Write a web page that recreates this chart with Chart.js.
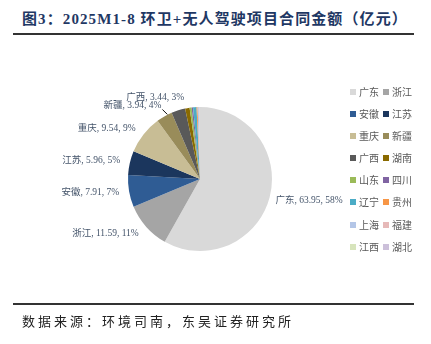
<!DOCTYPE html>
<html>
<head>
<meta charset="utf-8">
<script src="https://cdn.jsdelivr.net/npm/chart.js@4/dist/chart.umd.min.js"></script>
<style>
  html, body { margin:0; padding:0; background:#fff; }
  body { width:431px; height:344px; position:relative; overflow:hidden; font-family:'Liberation Serif','Noto Sans CJK SC',serif; }
  #title { position:absolute; left:22px; top:7px; font-size:15px; font-weight:bold; color:#1f3864; white-space:nowrap; letter-spacing:1.1px; }
  .rule { position:absolute; left:13px; width:401px; background:#333; }
  #src { position:absolute; left:22px; top:311px; font-size:13px; color:#222; white-space:nowrap; letter-spacing:3px; font-family:'Noto Sans CJK SC',serif; }
  #wrap { position:absolute; left:0; top:0; width:431px; height:344px; }
  #legend { position:absolute; left:350px; top:85px; display:grid; grid-template-columns:33px 36px; row-gap:8.6px; }
  #legend div { font-size:10px; color:#595959; line-height:13.5px; white-space:nowrap; font-family:'Noto Sans CJK SC',serif; }
  #legend span { display:inline-block; width:6px; height:6px; margin-right:3px; vertical-align:1px; }
</style>
</head>
<body>
<div id="title">图3：2025M1-8 环卫+无人驾驶项目合同金额（亿元）</div>
<div class="rule" style="top:33px;height:1.5px"></div>
<div id="wrap"><canvas id="pie" width="431" height="344"></canvas></div>
<div id="legend"></div>
<div class="rule" style="top:303px;height:2px"></div>
<div id="src">数据来源：环境司南，东吴证券研究所</div>
<script>
// 2025 M1-8 contract value by province (亿元), percent as printed
const provinces = ['广东','浙江','安徽','江苏','重庆','新疆','广西','湖南','山东','四川','辽宁','贵州','上海','福建','江西','湖北'];
const amounts   = [63.95, 11.59, 7.91, 5.96, 9.54, 3.94, 3.44, 1.1, 0.5, 0.35, 0.85, 0.25, 0.3, 0.1, 0.1, 0.1];
const shares    = [58, 11, 7, 5, 9, 4, 3];   // labelled slices only
const colors    = ['#d9d9d9','#a5a5a5','#2f5c94','#1b365d','#c8bd95','#998c5a','#595959','#8a6a00',
                   '#9bbb59','#8064a2','#4bacc6','#f79646','#b4c6e7','#e6b9b8','#d7e4bc','#ccc0da'];

// label placement tweaks: [radial gap, align, dx, dy, leader line]
const labelPos = {
  0: [6, 'left', 0, 2],
  5: [0, 'right', -3, -11, true],
  6: [0, 'center', -23, -12.5],
};

const legend = document.getElementById('legend');
provinces.forEach((p, i) => {
  const d = document.createElement('div');
  d.innerHTML = `<span style="background:${colors[i]}"></span>${p}`;
  legend.appendChild(d);
});

const sliceLabels = {
  id: 'sliceLabels',
  afterDatasetsDraw(chart) {
    const c = chart.ctx;
    const arcs = chart.getDatasetMeta(0).data;
    c.save();
    c.font = "9.5px 'Liberation Serif','Noto Sans CJK SC',serif";
    c.fillStyle = '#44546a';
    c.strokeStyle = '#111';
    c.lineWidth = 1;
    c.textBaseline = 'middle';
    shares.forEach((pct, i) => {
      const a = arcs[i];
      const mid = (a.startAngle + a.endAngle) / 2;
      const [gap, align, dx, dy, leader] = labelPos[i] || [10, null, 0, 0];
      const ex = a.x + Math.cos(mid) * a.outerRadius, ey = a.y + Math.sin(mid) * a.outerRadius;
      const x = a.x + Math.cos(mid) * (a.outerRadius + gap) + dx;
      const y = a.y + Math.sin(mid) * (a.outerRadius + gap) + dy;
      c.textAlign = align || (x < a.x ? 'right' : 'left');
      c.fillText(`${provinces[i]}, ${amounts[i].toFixed(2)}, ${pct}%`, x, y);
      if (leader) {
        // short connector from the label's right end down to the slice edge
        c.beginPath();
        c.moveTo(x + 1, y + 4);
        c.lineTo(ex + 3, ey - 2);
        c.stroke();
      }
    });
    c.restore();
  }
};

new Chart(document.getElementById('pie'), {
  type: 'pie',
  data: { labels: provinces, datasets: [{ data: amounts, backgroundColor: colors, borderWidth: 0 }] },
  options: {
    responsive: false, animation: false,
    layout: { padding: { left: 128, top: 107, right: 159, bottom: 93 } },
    plugins: { legend: { display: false }, tooltip: { enabled: false } }
  },
  plugins: [sliceLabels]
});
</script>
</body>
</html>
